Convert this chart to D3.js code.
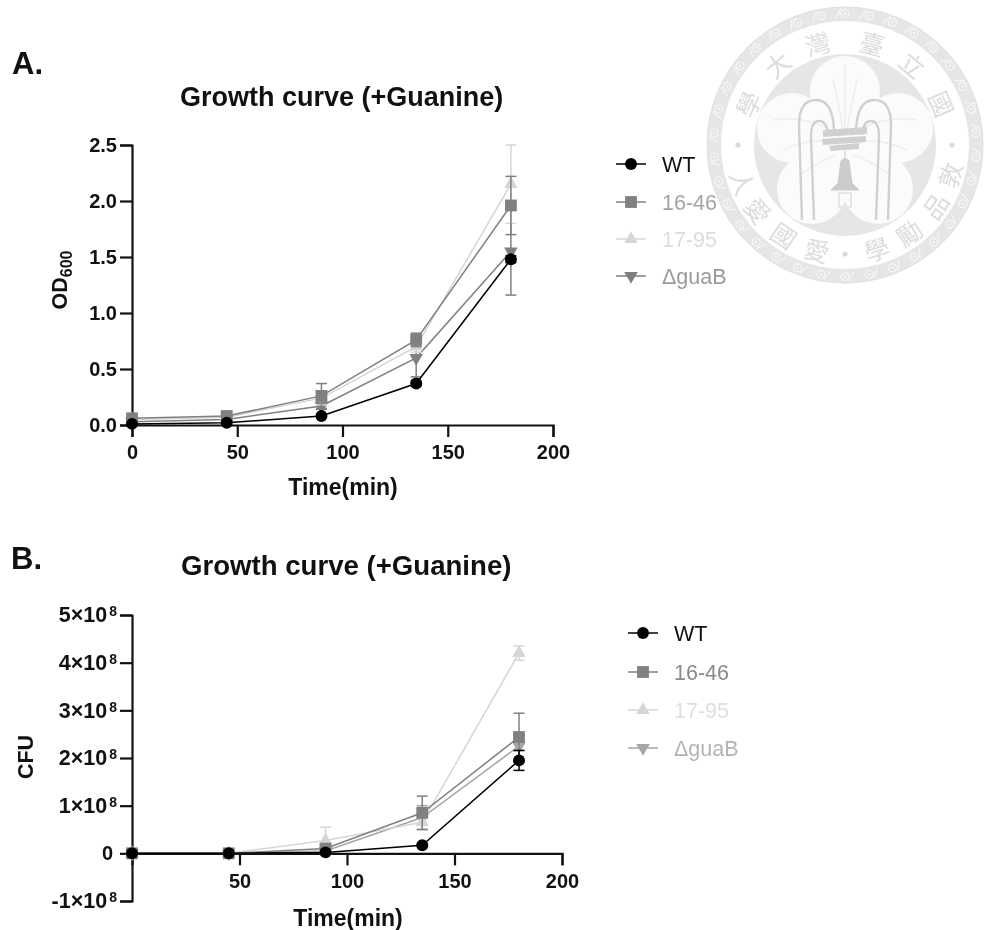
<!DOCTYPE html>
<html><head><meta charset="utf-8">
<script src="https://cdn.jsdelivr.net/npm/d3@7"></script>
<style>html,body{margin:0;background:#fff}svg{display:block;filter:blur(.5px)}text{font-family:"Liberation Sans",Arial,sans-serif}</style>
</head><body><svg id="c" width="984" height="930"></svg>
<script>
const times=[0,45,90,135,180];
const seriesNames=["WT","16-46","17-95","ΔguaB"];
// Panel A: OD600
const odWT=[0.01,0.02,0.08,0.37,1.48];
const od1646=[0.06,0.08,0.26,0.76,1.96];
const od1795=[0.05,0.07,0.24,0.70,2.15];
const odGuaB=[0.03,0.05,0.17,0.60,1.55];
const odWTErr=[0,0,0.01,0.02,0.03];
const od1646Err=[0.01,0.01,0.11,0.06,0.26];
const od1795Err=[0.01,0.01,0.06,0.05,0.35];
const odGuaBErr=[0.01,0.01,0.03,0.17,0.39];
// Panel B: CFU
const cfuWT=[0,0,0.02e8,0.17e8,1.95e8];
const cfu1646=[0,0,0.10e8,0.85e8,2.44e8];
const cfu1795=[0,0,0.27e8,0.65e8,4.20e8];
const cfuGuaB=[0,0,0.05e8,0.75e8,2.25e8];
const cfuWTErr=[0,0,0.01e8,0.02e8,0.21e8];
const cfu1646Err=[0,0,0.05e8,0.35e8,0.50e8];
const cfu1795Err=[0,0,0.28e8,0.15e8,0.15e8];
const cfuGuaBErr=[0,0,0.04e8,0.25e8,0.10e8];
const xTicksA=[0,50,100,150,200];
const xTicksB=[50,100,150,200];
const yTicksA=[0,0.5,1,1.5,2,2.5];
const yTicksB=[-1e8,0,1e8,2e8,3e8,4e8,5e8];
const markerColA=["#000","#808080","#d6d6d6","#808080"];
const markerColB=["#000","#808080","#d6d6d6","#a6a6a6"];
const textColA=["#111","#a4a4a4","#dcdcdc","#9a9a9a"];
const textColB=["#111","#8a8a8a","#dedede","#b4b4b4"];

const svg=d3.select("#c");

/* watermark seal */
function seal(cx,cy){
  const g=svg.append("g").attr("transform",`translate(${cx},${cy})`).style("filter","blur(.7px)");
  const grey="#e6e6e6";
  g.append("circle").attr("r",131.5).attr("fill","none").attr("stroke",grey).attr("stroke-width",13.5);
  g.append("circle").attr("r",138).attr("fill","none").attr("stroke","#dedede").attr("stroke-width",.8);
  g.append("circle").attr("r",124.5).attr("fill","none").attr("stroke","#dedede").attr("stroke-width",.8);
  const n=34;
  g.selectAll("g.sp").data(d3.range(n)).join("g").attr("class","sp")
    .attr("transform",d=>`rotate(${d*360/n}) translate(0,-131.5)`)
    .call(s=>{
      s.append("circle").attr("r",4).attr("fill","none").attr("stroke","#f6f6f6").attr("stroke-width",1.2);
      s.append("path").attr("d","M-9,5 L-4,-5").attr("stroke","#f6f6f6").attr("stroke-width",1.2);
      s.append("circle").attr("r",1.2).attr("fill","#f6f6f6");
    });
  g.append("circle").attr("r",91).attr("fill","#e6e6e6");
  const petals=[[0,-54,35],[-53,-17,35],[53,-17,35],[-33,44,35],[33,44,35]];
  g.selectAll("circle.p").data(petals).join("circle").attr("class","p")
    .attr("cx",d=>d[0]).attr("cy",d=>d[1]).attr("r",d=>d[2]).attr("fill","#fbfbfb");
  g.append("circle").attr("r",42).attr("fill","#fbfbfb");
  const leaves=["M0,-80 L0,-15","M-12,-65 Q-6,-40 -2,-15","M12,-65 Q6,-40 2,-15","M-72,-25 Q-30,-30 -5,-8","M72,-25 Q30,-30 5,-8","M-62,5 Q-30,-10 -5,0","M62,5 Q30,-10 5,0","M-45,30 Q-25,15 -8,10","M45,30 Q25,15 8,10"];
  g.selectAll("path.l").data(leaves).join("path").attr("class","l").attr("d",d=>d)
    .attr("fill","none").attr("stroke","#eeeeee").attr("stroke-width",1.5);
  const arches=["M-43,75 L-46,-20 Q-46,-45 -29,-45 Q-12,-45 -11,-14","M43,75 L46,-20 Q46,-45 29,-45 Q12,-45 11,-14","M-31,75 L-34,-8 Q-34,-24 -26,-24 Q-18,-24 -17,-10","M31,75 L34,-8 Q34,-24 26,-24 Q18,-24 17,-10"];
  g.selectAll("path.a").data(arches).join("path").attr("class","a").attr("d",d=>d)
    .attr("fill","none").attr("stroke","#d0d0d0").attr("stroke-width",2.4);
  g.append("path").attr("d","M-22,-15 L22,-18 L22,-11 L-22,-8Z M-23,-6 L21,-9 L21,-3 L-22,0Z M-16,1 L14,-2 L14,4 L-14,6Z").attr("fill","#d0d0d0");
  g.append("path").attr("d","M0,6 L0,15 M-4,16 Q0,11 4,16 L7,38 L14,45 L-14,45 L-7,38Z").attr("fill","#cccccc").attr("stroke","#cccccc");
  g.append("path").attr("d","M-6,48 L6,48 L6,62 L-6,62Z").attr("fill","none").attr("stroke","#e6e6e6").attr("stroke-width",2);
  const chars=[["國",67],["立",40],["臺",15],["灣",-15],["大",-40],["學",-67],["人",-110],["愛",-127],["國",-146],["愛",-165],["學",163],["勵",144],["品",124],["敦",106]];
  g.selectAll("text.k").data(chars).join("text").attr("class","k")
    .attr("transform",d=>{
      const r=Math.abs(d[1])>90?108:106;
      const a=d[1]*Math.PI/180;
      const rot=Math.abs(d[1])>90?d[1]+180:d[1];
      return `translate(${r*Math.sin(a)},${-r*Math.cos(a)}) rotate(${rot})`;
    })
    .attr("text-anchor","middle").attr("dominant-baseline","central")
    .style("font-family",'"Noto Sans CJK TC"').style("font-size","25px").attr("fill","#dcdcdc").text(d=>d[0]);
  g.selectAll("circle.d").data([[-107,0],[107,0],[0,109]]).join("circle").attr("class","d")
    .attr("cx",d=>d[0]).attr("cy",d=>d[1]).attr("r",2.6).attr("fill","#dadada");
}
seal(845,145);

const symbols=[
  d3.symbol().type(d3.symbolCircle).size(112)(),
  d3.symbol().type(d3.symbolSquare).size(140)(),
  d3.symbol().type(d3.symbolTriangle).size(80)(),
  d3.symbol().type(d3.symbolTriangle).size(80)()
];
const symRot=[0,0,0,180];

function panel(o){
  const x=d3.scaleLinear().domain([0,200]).range(o.xr);
  const y=d3.scaleLinear().domain(o.yd).range(o.yr);
  const zeroY=y(0);
  const tickStyle=s=>{
    s.selectAll("path.domain").attr("stroke","#111").attr("stroke-width",2.2);
    s.selectAll(".tick line").attr("stroke","#111").attr("stroke-width",2.2);
    s.selectAll("text").attr("fill","#111").style("font-size","20px").style("font-weight","bold").style("font-family",'"Liberation Sans"');
  };
  const root=svg.append("g");
  root.append("g").attr("transform",`translate(0,${zeroY})`)
    .call(d3.axisBottom(x).tickValues(o.xTicks).tickFormat(d3.format("d")).tickSize(12).tickPadding(8).tickSizeOuter(12)).call(tickStyle);
  const ya=root.append("g").attr("transform",`translate(${o.xr[0]},0)`)
    .call(d3.axisLeft(y).tickValues(o.yTicks).tickSize(12).tickSizeOuter(12).tickPadding(3).tickFormat(o.fmt)).call(tickStyle);
  if(o.sup){
    ya.selectAll(".tick text").each(function(d){
      const t=d3.select(this); t.text(null);
      if(d===0){t.text("0").attr("dx",-4);return;}
      t.style("font-size","21.5px");
      t.append("tspan").text(`${d/1e8}×10`);
      t.append("tspan").text("8").attr("dx",2).attr("dy",-6).style("font-size","14px").style("font-weight","bold");
    });
  }
  const order=[3,2,1,0];
  order.forEach(i=>{
    const vals=o.vals[i], errs=o.errs[i], col=o.col[i];
    const pts=times.map((t,k)=>({t,v:vals[k],e:errs[k]}));
    const g=root.append("g");
    const eb=g.selectAll("g").data(pts.filter(p=>p.e>0)).join("g").attr("stroke",col).attr("stroke-width",1.5);
    eb.append("line").attr("x1",p=>x(p.t)).attr("x2",p=>x(p.t)).attr("y1",p=>y(p.v-p.e)).attr("y2",p=>y(p.v+p.e));
    [-1,1].forEach(sg=>eb.append("line").attr("x1",p=>x(p.t)-5.5).attr("x2",p=>x(p.t)+5.5)
      .attr("y1",p=>y(p.v+sg*p.e)).attr("y2",p=>y(p.v+sg*p.e)));
    g.append("path").datum(pts).attr("fill","none").attr("stroke",col).attr("stroke-width",1.5)
      .attr("d",d3.line().x(p=>x(p.t)).y(p=>y(p.v)));
    g.selectAll("path.m").data(pts).join("path").attr("class","m").attr("d",symbols[i]).attr("fill",col)
      .attr("transform",p=>`translate(${x(p.t)},${y(p.v)}) rotate(${symRot[i]})`);
  });
  root.append("text").attr("x",o.titleX).attr("y",o.titleY).attr("fill","#111")
    .style("font-size",o.titleSize+"px").style("font-weight","bold").text("Growth curve (+Guanine)");
  root.append("text").attr("x",o.xLab[0]).attr("y",o.xLab[1]).attr("text-anchor","middle").attr("fill","#111")
    .style("font-size","23px").style("font-weight","bold").text("Time(min)");
  const yl=root.append("text").attr("transform",`translate(${o.yLab[0]},${o.yLab[1]}) rotate(-90)`).attr("text-anchor","middle").attr("fill","#111")
    .style("font-size","21.5px").style("font-weight","bold");
  o.yLabel(yl);
  root.append("text").attr("x",o.letter[0]).attr("y",o.letter[1]).attr("fill","#111")
    .style("font-size","31px").style("font-weight","bold").text(o.letter[2]);
  const lg=root.selectAll("g.lg").data(seriesNames).join("g").attr("class","lg")
    .attr("transform",(d,i)=>`translate(${o.legX},${o.legY[i]})`);
  lg.append("line").attr("x1",0).attr("x2",30).attr("stroke",(d,i)=>o.col[i]).attr("stroke-width",1.5);
  lg.append("path").attr("d",(d,i)=>symbols[i]).attr("fill",(d,i)=>o.col[i])
    .attr("transform",(d,i)=>`translate(15,0) rotate(${symRot[i]})`);
  lg.append("text").attr("x",46).attr("dy","0.36em").attr("fill",(d,i)=>o.text[i])
    .style("font-size","21.5px").text(d=>d);
}

panel({xr:[132,553],yd:[0,2.5],yr:[425,145],xTicks:xTicksA,yTicks:yTicksA,fmt:d3.format(".1f"),
  vals:[odWT,od1646,od1795,odGuaB],errs:[odWTErr,od1646Err,od1795Err,odGuaBErr],col:markerColA,text:textColA,
  titleX:180,titleY:106,titleSize:27,xLab:[343,495],yLab:[67,280],
  yLabel:t=>{t.append("tspan").text("OD");t.append("tspan").text("600").attr("dy",5).style("font-size","16px");},
  letter:[12,74,"A."],legX:616,legY:[164,202,239,276]});
panel({xr:[132,562],yd:[-1e8,5e8],yr:[901,615],xTicks:xTicksB,yTicks:yTicksB,sup:true,fmt:d=>d,
  vals:[cfuWT,cfu1646,cfu1795,cfuGuaB],errs:[cfuWTErr,cfu1646Err,cfu1795Err,cfuGuaBErr],col:markerColB,text:textColB,
  titleX:181,titleY:575,titleSize:27.6,xLab:[348,926],yLab:[33,757],
  yLabel:t=>t.text("CFU"),
  letter:[11,569,"B."],legX:628,legY:[633,672,710,748]});
</script></body></html>
